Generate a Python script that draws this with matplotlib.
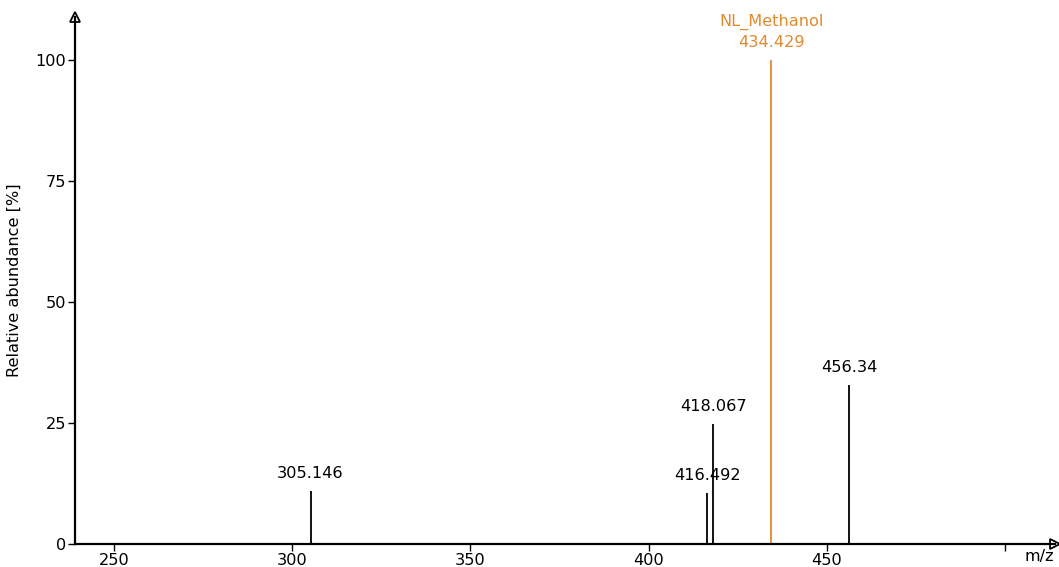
import matplotlib.pyplot as plt

# --- peak data ---
mz = [305.146, 416.492, 418.067, 434.429, 456.34]
intensity = [11.0, 10.6, 24.8, 100.0, 32.9]
labels = ["305.146", "416.492", "418.067", "NL_Methanol\n434.429", "456.34"]
colors = ["black", "black", "black", "#e08a2e", "black"]

xticks = [250, 300, 350, 400, 450, 500]
xtick_labels = ["250", "300", "350", "400", "450", ""]
yticks = [0, 25, 50, 75, 100]

fig = plt.figure(figsize=(10.59, 5.67), dpi=100)
ax = fig.add_axes([75 / 1059, 1 - 544 / 567, (1055 - 75) / 1059, (544 - 17) / 567])

ax.vlines(mz, 0, intensity, colors=colors, linewidth=1.3)
for x, y, lab, c in zip(mz, intensity, labels, colors):
    ax.annotate(lab, (x, y), xytext=(0, 7), textcoords="offset points",
                ha="center", va="bottom", color=c, fontsize=11.6, linespacing=1.45)

ax.set_xlim(239.06, 514)
ax.set_ylim(0, 108.9)
ax.set_xticks(xticks)
ax.set_xticklabels(xtick_labels)
ax.set_yticks(yticks)
ax.tick_params(axis="both", labelsize=11.6, length=5, width=1.0, direction="out", pad=1.5)

for s in ("top", "right"):
    ax.spines[s].set_visible(False)
for s in ("left", "bottom"):
    ax.spines[s].set_linewidth(1.6)

# open arrow heads at axis ends
ax.plot([1], [0], marker=">", ms=7, mfc="white", mec="black", mew=1.3,
        transform=ax.transAxes, clip_on=False)
ax.plot([0], [1], marker="^", ms=7, mfc="white", mec="black", mew=1.3,
        transform=ax.transAxes, clip_on=False)

ax.set_ylabel("Relative abundance [%]", fontsize=11.6, labelpad=10)
fig.text(1054 / 1059, 1 - 557 / 567, "m/z", ha="right", va="center", fontsize=11.6)

fig.savefig("out.png", dpi=100)
